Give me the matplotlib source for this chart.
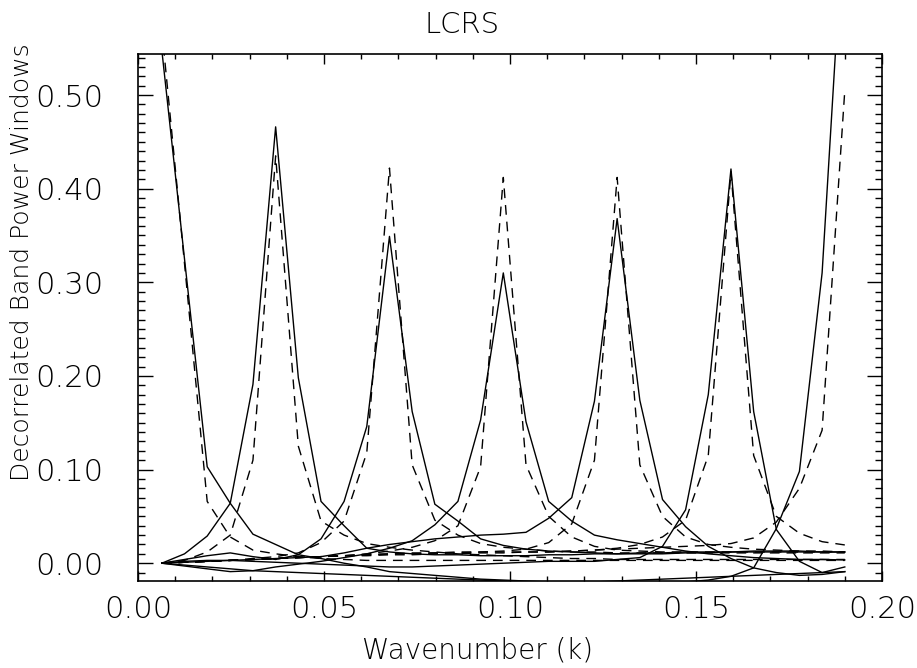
import matplotlib
matplotlib.use("Agg")
import matplotlib.pyplot as plt
from matplotlib.ticker import MultipleLocator, FormatStrFormatter

# wavenumber grid (k)
k = [0.0064, 0.0125, 0.0186, 0.0248, 0.0309, 0.0370, 0.0431, 0.0492, 0.0554, 0.0615,
     0.0676, 0.0737, 0.0798, 0.0860, 0.0921, 0.0982, 0.1043, 0.1104, 0.1166, 0.1227,
     0.1288, 0.1349, 0.1410, 0.1472, 0.1533, 0.1594, 0.1655, 0.1716, 0.1778, 0.1839, 0.1900]

# solid windows
w0 = [0.548, 0.325, 0.103, 0.064, 0.031, 0.020, 0.009, 0.005, 0.000, -0.004, -0.009, -0.011, -0.013, -0.015, -0.017, -0.018,
      -0.019, -0.020, -0.020, -0.020, -0.019, -0.018, -0.017, -0.016, -0.015, -0.014, -0.013, -0.012, -0.011, -0.010, -0.009]
w1 = [0.000, 0.010, 0.029, 0.064, 0.191, 0.466, 0.198, 0.066, 0.040, 0.016, 0.012, 0.010, 0.009, 0.009, 0.008, 0.008,
      0.008, 0.009, 0.009, 0.010, 0.010, 0.011, 0.011, 0.012, 0.012, 0.012, 0.012, 0.012, 0.012, 0.012, 0.012]
w2 = [0.000, 0.004, 0.008, 0.011, 0.007, 0.004, 0.009, 0.026, 0.066, 0.146, 0.349, 0.162, 0.063, 0.045, 0.026, 0.019,
      0.015, 0.013, 0.012, 0.011, 0.010, 0.010, 0.010, 0.011, 0.011, 0.012, 0.013, 0.013, 0.013, 0.012, 0.012]
w3 = [0.000, -0.003, -0.006, -0.009, -0.008, -0.004, -0.001, 0.002, 0.006, 0.010, 0.016, 0.024, 0.041, 0.066, 0.153, 0.310,
      0.151, 0.066, 0.045, 0.030, 0.025, 0.021, 0.017, 0.013, 0.010, 0.008, 0.006, 0.005, 0.004, 0.004, 0.0035]
w4 = [0.000, 0.001, 0.002, 0.003, 0.004, 0.005, 0.006, 0.007, 0.011, 0.016, 0.020, 0.023, 0.026, 0.028, 0.030, 0.031,
      0.033, 0.048, 0.070, 0.173, 0.368, 0.174, 0.068, 0.039, 0.018, 0.005, -0.005, -0.010, -0.013, -0.012, -0.009]
w5 = [0.000, 0.002, 0.003, 0.003, 0.002, 0.001, 0.000, -0.001, -0.002, -0.003, -0.004, -0.004, -0.003, -0.002, -0.001, 0.000,
      0.001, 0.002, 0.002, 0.002, 0.004, 0.006, 0.018, 0.057, 0.180, 0.421, 0.162, 0.036, 0.002, -0.010, -0.004]
w6 = [0.000, -0.002, -0.004, -0.006, -0.008, -0.009, -0.010, -0.011, -0.012, -0.013, -0.014, -0.015, -0.016, -0.017, -0.018, -0.019,
      -0.020, -0.021, -0.022, -0.022, -0.022, -0.022, -0.021, -0.020, -0.018, -0.014, -0.005, 0.037, 0.098, 0.310, 0.710]

# dashed windows
d0 = [0.570, 0.320, 0.066, 0.028, 0.014, 0.010, 0.007, 0.005, 0.004, 0.003, 0.003, 0.003, 0.003, 0.003, 0.003, 0.003,
      0.003, 0.003, 0.003, 0.003, 0.003, 0.003, 0.003, 0.003, 0.003, 0.003, 0.003, 0.003, 0.003, 0.003, 0.003]
d1 = [0.000, 0.003, 0.012, 0.030, 0.110, 0.435, 0.125, 0.045, 0.030, 0.021, 0.017, 0.014, 0.012, 0.010, 0.009, 0.008,
      0.007, 0.006, 0.005, 0.005, 0.004, 0.004, 0.004, 0.004, 0.004, 0.004, 0.004, 0.004, 0.004, 0.004, 0.004]
d2 = [0.000, 0.001, 0.002, 0.003, 0.005, 0.007, 0.011, 0.022, 0.045, 0.118, 0.422, 0.105, 0.046, 0.030, 0.021, 0.017,
      0.015, 0.013, 0.012, 0.012, 0.011, 0.011, 0.011, 0.011, 0.011, 0.011, 0.011, 0.011, 0.011, 0.011, 0.011]
d3 = [0.000, 0.001, 0.002, 0.003, 0.004, 0.005, 0.006, 0.007, 0.008, 0.010, 0.013, 0.017, 0.024, 0.040, 0.103, 0.412,
      0.105, 0.050, 0.028, 0.018, 0.014, 0.013, 0.012, 0.012, 0.012, 0.012, 0.012, 0.012, 0.012, 0.012, 0.012]
d4 = [0.000, 0.001, 0.002, 0.003, 0.004, 0.005, 0.006, 0.007, 0.008, 0.009, 0.010, 0.010, 0.011, 0.011, 0.012, 0.013,
      0.015, 0.022, 0.042, 0.110, 0.412, 0.105, 0.050, 0.028, 0.020, 0.017, 0.015, 0.014, 0.013, 0.013, 0.012]
d5 = [0.000, 0.001, 0.002, 0.003, 0.004, 0.005, 0.006, 0.007, 0.008, 0.008, 0.009, 0.009, 0.010, 0.010, 0.011, 0.011,
      0.012, 0.012, 0.013, 0.014, 0.016, 0.020, 0.028, 0.046, 0.115, 0.418, 0.115, 0.050, 0.032, 0.023, 0.0195]
d6 = [0.000, 0.001, 0.002, 0.003, 0.004, 0.005, 0.006, 0.007, 0.008, 0.009, 0.010, 0.011, 0.011, 0.012, 0.012, 0.012,
      0.012, 0.012, 0.013, 0.014, 0.015, 0.016, 0.017, 0.018, 0.019, 0.021, 0.027, 0.044, 0.080, 0.142, 0.505]

solid = [w0, w1, w2, w3, w4, w5, w6]
dashed = [d0, d1, d2, d3, d4, d5, d6]

x_ticks = [0.00, 0.05, 0.10, 0.15, 0.20]
y_ticks = [0.00, 0.10, 0.20, 0.30, 0.40, 0.50]

FAM = "DejaVu Sans"
WT = "light"

fig = plt.figure(figsize=(9.17, 6.68), dpi=100)
ax = fig.add_axes([138 / 917, 1 - 581 / 668, (882 - 138) / 917, (581 - 54) / 668])

for w in solid:
    ax.plot(k, w, color="black", lw=1.0, ls="-")
for d in dashed:
    ax.plot(k, d, color="black", lw=1.0, ls=(0, (7, 5)))

ax.set_xlim(0.0, 0.20)
ax.set_ylim(-0.019, 0.5438)

ax.set_xticks(x_ticks)
ax.set_yticks(y_ticks)
ax.xaxis.set_major_formatter(FormatStrFormatter("%.2f"))
ax.yaxis.set_major_formatter(FormatStrFormatter("%.2f"))
ax.xaxis.set_minor_locator(MultipleLocator(0.01))
ax.yaxis.set_minor_locator(MultipleLocator(0.01))
ax.tick_params(axis="both", which="both", direction="in", top=True, right=True, color="black")
ax.tick_params(axis="x", which="major", length=7.5, width=1.0, pad=10)
ax.tick_params(axis="x", which="minor", length=3.8, width=1.0)
ax.tick_params(axis="y", which="major", length=11, width=1.0, pad=25)
ax.tick_params(axis="y", which="minor", length=5.2, width=1.0)
for lab in ax.get_xticklabels() + ax.get_yticklabels():
    lab.set_fontfamily(FAM)
    lab.set_fontweight(WT)
    lab.set_fontsize(22)
for s in ax.spines.values():
    s.set_linewidth(1.2)

fig.text(478 / 917, 1 - 650 / 668, "Wavenumber (k)", ha="center", va="center",
         fontsize=20, family=FAM, fontweight=WT)
fig.text(22 / 917, 1 - 262 / 668, "Decorrelated Band Power Windows", ha="center", va="center",
         rotation=90, fontsize=18, family=FAM, fontweight=WT)
fig.text(462 / 917, 1 - 25 / 668, "LCRS", ha="center", va="center",
         fontsize=21, family=FAM, fontweight=WT)

fig.savefig("out.png", dpi=100)
